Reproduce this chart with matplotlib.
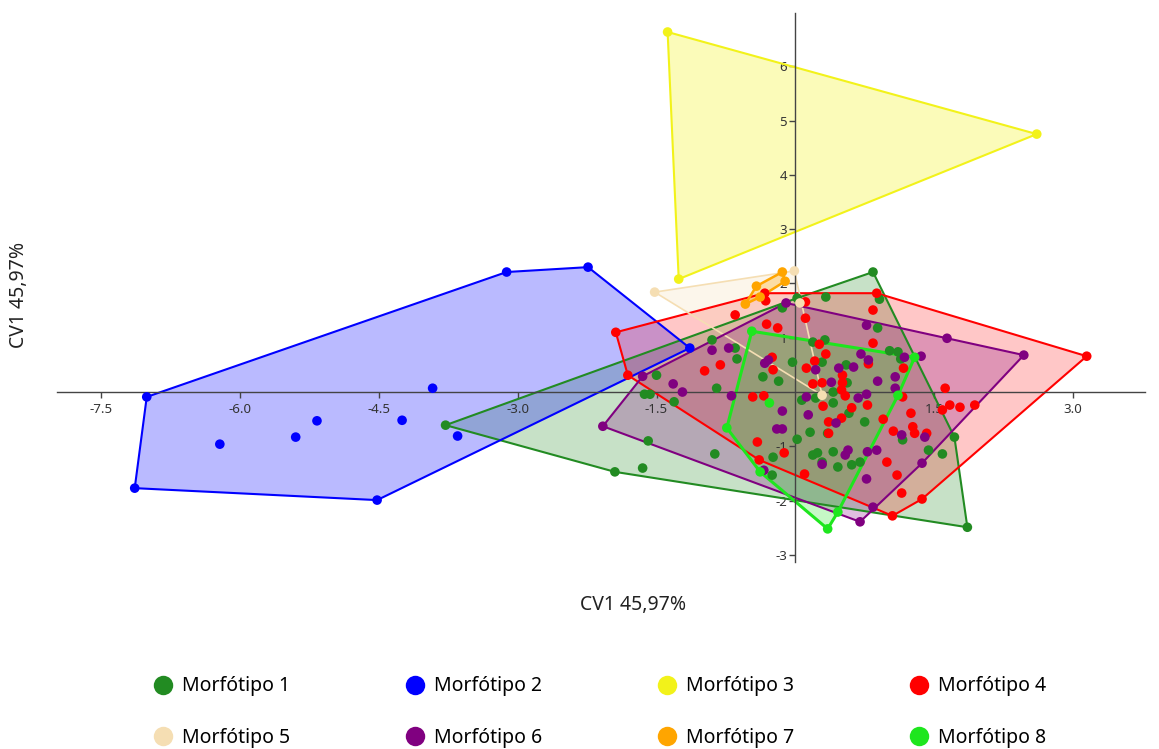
import matplotlib
matplotlib.use('Agg')
import matplotlib.pyplot as plt
from matplotlib.patches import Polygon
from matplotlib.lines import Line2D

plt.rcParams['font.family'] = ['Noto Sans', 'DejaVu Sans']

names = ['Morfótipo 1', 'Morfótipo 2', 'Morfótipo 3', 'Morfótipo 4',
         'Morfótipo 5', 'Morfótipo 6', 'Morfótipo 7', 'Morfótipo 8']
colors = ['#228B22', '#0000FF', '#F2F21A', '#FF0000',
          '#F5DEB3', '#800080', '#FFA500', '#1EE61E']

# Morfótipo 1
x1 = [-3.78, 0.84, 1.72, 1.86, -1.95, -0.90, -0.65, -0.63, -0.85, -0.35, -0.18, -0.03,
      -1.50, -1.63, -1.57, -1.31, -1.59, -0.87, -0.14, 0.02, 0.33, 0.91, 0.89, 0.19,
      0.32, 0.29, 1.02, 1.11, 1.14, 0.55, 0.41, 0.07, 0.22, 0.56, 0.41, 0.16, 0.02,
      0.35, 0.41, 0.19, 0.24, 0.29, 0.46, 0.61, 0.70, 0.75, 0.58, 1.44, 1.16, -1.65,
      -0.25, -0.24, 1.59]
y1 = [-0.61, 2.21, -0.83, -2.49, -1.47, 0.96, 0.81, 0.61, 0.07, 0.28, 0.20, 0.55,
      0.31, -0.04, -0.04, -0.18, -0.90, -1.14, 1.55, 1.73, 1.75, 1.71, 1.18, 0.92,
      0.96, 0.55, 0.76, 0.74, 0.61, 0.50, 0.00, -0.15, -0.11, 0.17, -0.20, -0.74, -0.87,
      -0.76, -1.10, -1.16, -1.12, -1.29, -1.38, -1.34, -1.29, -0.55, -0.39, -1.07, -0.88, -1.40,
      -1.53, -1.20, -1.14]

# Morfótipo 2
x2 = [-7.01, -7.14, -4.52, -1.14, -2.24, -3.12, -3.92, -6.22, -5.40, -5.17, -4.25, -3.65]
y2 = [-0.09, -1.77, -1.99, 0.81, 2.30, 2.21, 0.07, -0.96, -0.83, -0.53, -0.52, -0.81]

# Morfótipo 3
x3 = [-1.38, 2.61, -1.26]
y3 = [6.63, 4.75, 2.08]

# Morfótipo 4
x4 = [-1.94, -0.33, 0.88, 3.15, 1.37, 1.05, -0.39, -1.81, -0.32, -0.65, -0.31, -0.19,
      0.11, 0.11, 0.84, 0.84, 0.26, 0.33, 0.21, 0.12, -0.98, -0.81, -0.25, -0.24,
      0.51, 0.51, 0.50, 0.19, 0.29, 0.54, 0.79, 1.17, 1.16, 0.78, 0.30, 1.62, 1.67,
      1.78, 1.94, 1.59, -0.46, -0.34, -0.41, -0.12, 0.10, 0.36, 0.36, 0.50, 0.61,
      0.95, 1.25, 1.27, 1.29, 1.42, 1.06, 0.99, 1.10, 1.15]
y4 = [1.10, 1.82, 1.82, 0.66, -1.97, -2.28, -1.25, 0.31, 1.68, 1.42, 1.25, 1.18,
      1.66, 1.36, 1.51, 0.90, 0.88, 0.70, 0.57, 0.44, 0.39, 0.50, 0.64, 0.41,
      0.31, 0.17, 0.04, 0.15, 0.17, -0.07, 0.52, 0.44, -0.09, -0.24, -0.26, 0.07, -0.24,
      -0.28, -0.24, -0.33, -0.09, -0.07, -0.92, -1.12, -1.51, -0.55, -0.76, -0.48, -0.29,
      -0.50, -0.39, -0.64, -0.76, -0.76, -0.72, -1.29, -1.53, -1.86]

# Morfótipo 5
x5 = [-1.52, -0.01, 0.05, 0.29]
y5 = [1.84, 2.23, 1.64, -0.06]

# Morfótipo 6
x6 = [-2.08, -1.65, -0.10, 1.64, 2.47, 1.37, 0.84, 0.70, -0.90, -0.72, -1.32, -1.22,
      -0.69, -0.33, -0.29, -0.14, -0.14, -0.20, 0.77, 0.71, 0.79, 0.63, 0.47, 0.22,
      0.39, 0.89, 1.08, 1.08, 1.18, 1.36, 0.77, 0.68, 0.12, 0.14, 0.44, 0.54, 0.57,
      0.29, 0.78, 0.88, 0.77, 1.15, 1.40, -0.34]
y6 = [-0.63, 0.29, 1.64, 0.99, 0.68, -1.31, -2.12, -2.39, 0.77, 0.81, 0.15, 0.00,
      -0.07, 0.53, 0.59, -0.35, -0.68, -0.68, 1.23, 0.70, 0.59, 0.46, 0.44, 0.41,
      0.18, 0.20, 0.28, 0.07, 0.64, 0.66, -0.04, -0.11, -0.09, -0.42, -0.57, -1.16, -1.07,
      -1.33, -1.10, -1.07, -1.60, -0.79, -0.83, -1.44]

# Morfótipo 7
x7 = [-0.14, -0.11, -0.38, -0.54, -0.42]
y7 = [2.21, 2.04, 1.75, 1.62, 1.95]

# Morfótipo 8
x8 = [-0.47, 1.29, 1.11, 0.46, 0.35, -0.38, -0.74, -0.28]
y8 = [1.12, 0.64, -0.06, -2.21, -2.52, -1.47, -0.66, -0.20]

groups = [(x1, y1), (x2, y2), (x3, y3), (x4, y4),
          (x5, y5), (x6, y6), (x7, y7), (x8, y8)]

xticks = [-7.5, -6.0, -4.5, -3.0, -1.5, 1.5, 3.0]
yticks = [-3, -2, -1, 1, 2, 3, 4, 5, 6]


def hull(px, py):
    pts = sorted(set(zip(px, py)))
    if len(pts) < 3:
        return pts

    def cross(o, a, b):
        return (a[0] - o[0]) * (b[1] - o[1]) - (a[1] - o[1]) * (b[0] - o[0])
    lower, upper = [], []
    for p in pts:
        while len(lower) >= 2 and cross(lower[-2], lower[-1], p) <= 0:
            lower.pop()
        lower.append(p)
    for p in reversed(pts):
        while len(upper) >= 2 and cross(upper[-2], upper[-1], p) <= 0:
            upper.pop()
        upper.append(p)
    return lower[:-1] + upper[:-1]


fig = plt.figure(figsize=(11.59, 7.49), dpi=100)
ax = fig.add_axes([57 / 1159, 1 - 562 / 749, (1145 - 57) / 1159, (562 - 13) / 749])

fill_alpha = [0.25, 0.27, 0.30, 0.22, 0.25, 0.25, 0.30, 0.25]
line_w = [1.5, 1.5, 1.5, 1.5, 1.2, 1.5, 1.8, 2.2]
for i, (gx, gy) in enumerate(groups):
    h = hull(gx, gy)
    ax.add_patch(Polygon(h, closed=True, facecolor=colors[i], alpha=fill_alpha[i],
                         edgecolor='none', zorder=1))
    ax.add_patch(Polygon(h, closed=True, facecolor='none', edgecolor=colors[i],
                         lw=line_w[i], zorder=2))

for i, (gx, gy) in enumerate(groups):
    ax.scatter(gx, gy, s=48, color=colors[i], edgecolors='none', zorder=3)

ax.set_xlim(-7.98, 3.78)
ax.set_ylim(-3.13, 6.98)
ax.spines['left'].set_position(('data', 0))
ax.spines['bottom'].set_position(('data', 0))
ax.spines['top'].set_visible(False)
ax.spines['right'].set_visible(False)
for s in ['left', 'bottom']:
    ax.spines[s].set_color('#444444')
    ax.spines[s].set_linewidth(1.0)
ax.set_xticks(xticks)
ax.set_xticklabels([f'{v:.1f}' for v in xticks])
ax.set_yticks(yticks)
ax.set_yticklabels([str(v) for v in yticks])
ax.tick_params(axis='both', direction='out', length=4, width=1, colors='#444444',
               labelsize=9.5, labelcolor='#333333')
ax.tick_params(axis='x', pad=4)
ax.tick_params(axis='y', pad=2)
ax.set_facecolor('none')

fig.text(633 / 1159, 1 - 605 / 749, 'CV1 45,97%', ha='center', va='center',
         fontsize=14, color='#222222')
fig.text(19 / 1159, 1 - 295 / 749, 'CV1 45,97%', ha='center', va='center',
         rotation=90, fontsize=14, color='#222222')

# legend fills column by column, so order entries to read row by row
order = [0, 4, 1, 5, 2, 6, 3, 7]
handles = [Line2D([], [], marker='o', ls='none', markersize=14,
                  markerfacecolor=colors[k], markeredgecolor='none') for k in order]
fig.legend(handles, [names[k] for k in order], ncol=4, loc='center left',
           bbox_to_anchor=(136 / 1159, 1 - 712 / 749),
           frameon=False, fontsize=14, handlelength=1.0, handletextpad=0.45,
           columnspacing=5.95, labelspacing=1.6)

fig.savefig('out.png', dpi=100, facecolor='white')
